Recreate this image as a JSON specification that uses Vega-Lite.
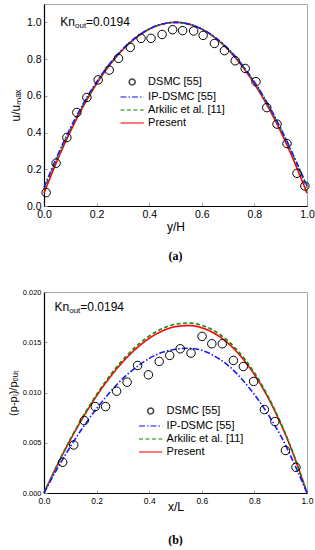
{
  "$schema": "https://vega.github.io/schema/vega-lite/v6.json",
  "padding": {"left": 6, "top": 3, "right": 0, "bottom": 0},
  "background": "white",
  "spacing": 25,
  "datasets": {
    "linesA": [
      {"x":0,"y":0.07,"s":"Present"},{"x":0.05,"y":0.2467,"s":"Present"},{"x":0.1,"y":0.4048,"s":"Present"},{"x":0.15,"y":0.5443,"s":"Present"},{"x":0.2,"y":0.6652,"s":"Present"},{"x":0.25,"y":0.7675,"s":"Present"},{"x":0.3,"y":0.8512,"s":"Present"},{"x":0.35,"y":0.9163,"s":"Present"},{"x":0.4,"y":0.9628,"s":"Present"},{"x":0.45,"y":0.9907,"s":"Present"},{"x":0.5,"y":1.0,"s":"Present"},{"x":0.55,"y":0.9907,"s":"Present"},{"x":0.6,"y":0.9628,"s":"Present"},{"x":0.65,"y":0.9163,"s":"Present"},{"x":0.7,"y":0.8512,"s":"Present"},{"x":0.75,"y":0.7675,"s":"Present"},{"x":0.8,"y":0.6652,"s":"Present"},{"x":0.85,"y":0.5443,"s":"Present"},{"x":0.9,"y":0.4048,"s":"Present"},{"x":0.95,"y":0.2467,"s":"Present"},{"x":1,"y":0.07,"s":"Present"},
      {"x":0,"y":0.09,"s":"Arkilic et al. [11]"},{"x":0.05,"y":0.2629,"s":"Arkilic et al. [11]"},{"x":0.1,"y":0.4176,"s":"Arkilic et al. [11]"},{"x":0.15,"y":0.5541,"s":"Arkilic et al. [11]"},{"x":0.2,"y":0.6724,"s":"Arkilic et al. [11]"},{"x":0.25,"y":0.7725,"s":"Arkilic et al. [11]"},{"x":0.3,"y":0.8544,"s":"Arkilic et al. [11]"},{"x":0.35,"y":0.9181,"s":"Arkilic et al. [11]"},{"x":0.4,"y":0.9636,"s":"Arkilic et al. [11]"},{"x":0.45,"y":0.9909,"s":"Arkilic et al. [11]"},{"x":0.5,"y":1.0,"s":"Arkilic et al. [11]"},{"x":0.55,"y":0.9909,"s":"Arkilic et al. [11]"},{"x":0.6,"y":0.9636,"s":"Arkilic et al. [11]"},{"x":0.65,"y":0.9181,"s":"Arkilic et al. [11]"},{"x":0.7,"y":0.8544,"s":"Arkilic et al. [11]"},{"x":0.75,"y":0.7725,"s":"Arkilic et al. [11]"},{"x":0.8,"y":0.6724,"s":"Arkilic et al. [11]"},{"x":0.85,"y":0.5541,"s":"Arkilic et al. [11]"},{"x":0.9,"y":0.4176,"s":"Arkilic et al. [11]"},{"x":0.95,"y":0.2629,"s":"Arkilic et al. [11]"},{"x":1,"y":0.1,"s":"Arkilic et al. [11]"},
      {"x":0,"y":0.1,"s":"IP-DSMC [55]"},{"x":0.05,"y":0.271,"s":"IP-DSMC [55]"},{"x":0.1,"y":0.424,"s":"IP-DSMC [55]"},{"x":0.15,"y":0.559,"s":"IP-DSMC [55]"},{"x":0.2,"y":0.676,"s":"IP-DSMC [55]"},{"x":0.25,"y":0.775,"s":"IP-DSMC [55]"},{"x":0.3,"y":0.856,"s":"IP-DSMC [55]"},{"x":0.35,"y":0.919,"s":"IP-DSMC [55]"},{"x":0.4,"y":0.964,"s":"IP-DSMC [55]"},{"x":0.45,"y":0.991,"s":"IP-DSMC [55]"},{"x":0.5,"y":1.0,"s":"IP-DSMC [55]"},{"x":0.55,"y":0.991,"s":"IP-DSMC [55]"},{"x":0.6,"y":0.964,"s":"IP-DSMC [55]"},{"x":0.65,"y":0.919,"s":"IP-DSMC [55]"},{"x":0.7,"y":0.856,"s":"IP-DSMC [55]"},{"x":0.75,"y":0.775,"s":"IP-DSMC [55]"},{"x":0.8,"y":0.676,"s":"IP-DSMC [55]"},{"x":0.85,"y":0.559,"s":"IP-DSMC [55]"},{"x":0.9,"y":0.424,"s":"IP-DSMC [55]"},{"x":0.95,"y":0.271,"s":"IP-DSMC [55]"},{"x":1,"y":0.11,"s":"IP-DSMC [55]"}
    ],
    "dsmcA": [
      {"x":0.008,"y":0.073},{"x":0.046,"y":0.233},{"x":0.087,"y":0.373},{"x":0.125,"y":0.509},{"x":0.163,"y":0.591},{"x":0.206,"y":0.687},{"x":0.248,"y":0.74},{"x":0.283,"y":0.804},{"x":0.328,"y":0.864},{"x":0.369,"y":0.913},{"x":0.407,"y":0.913},{"x":0.449,"y":0.934},{"x":0.489,"y":0.96},{"x":0.527,"y":0.955},{"x":0.569,"y":0.953},{"x":0.605,"y":0.929},{"x":0.648,"y":0.885},{"x":0.686,"y":0.846},{"x":0.727,"y":0.791},{"x":0.765,"y":0.749},{"x":0.806,"y":0.677},{"x":0.847,"y":0.536},{"x":0.886,"y":0.446},{"x":0.924,"y":0.34},{"x":0.962,"y":0.178},{"x":0.992,"y":0.109}
    ],
    "linesB": [
      {"x":0,"y":0,"s":"Present"},{"x":0.05,"y":0.00275,"s":"Present"},{"x":0.1,"y":0.00528,"s":"Present"},{"x":0.15,"y":0.00759,"s":"Present"},{"x":0.2,"y":0.00966,"s":"Present"},{"x":0.25,"y":0.01149,"s":"Present"},{"x":0.3,"y":0.01306,"s":"Present"},{"x":0.35,"y":0.01436,"s":"Present"},{"x":0.4,"y":0.01539,"s":"Present"},{"x":0.45,"y":0.01612,"s":"Present"},{"x":0.5,"y":0.01655,"s":"Present"},{"x":0.55,"y":0.01666,"s":"Present"},{"x":0.6,"y":0.01644,"s":"Present"},{"x":0.65,"y":0.01585,"s":"Present"},{"x":0.7,"y":0.0149,"s":"Present"},{"x":0.75,"y":0.01355,"s":"Present"},{"x":0.8,"y":0.01179,"s":"Present"},{"x":0.85,"y":0.00958,"s":"Present"},{"x":0.9,"y":0.0069,"s":"Present"},{"x":0.95,"y":0.00372,"s":"Present"},{"x":1,"y":0,"s":"Present"},
      {"x":0,"y":0,"s":"Arkilic et al. [11]"},{"x":0.05,"y":0.00279,"s":"Arkilic et al. [11]"},{"x":0.1,"y":0.00536,"s":"Arkilic et al. [11]"},{"x":0.15,"y":0.0077,"s":"Arkilic et al. [11]"},{"x":0.2,"y":0.0098,"s":"Arkilic et al. [11]"},{"x":0.25,"y":0.01166,"s":"Arkilic et al. [11]"},{"x":0.3,"y":0.01326,"s":"Arkilic et al. [11]"},{"x":0.35,"y":0.01458,"s":"Arkilic et al. [11]"},{"x":0.4,"y":0.01562,"s":"Arkilic et al. [11]"},{"x":0.45,"y":0.01636,"s":"Arkilic et al. [11]"},{"x":0.5,"y":0.0168,"s":"Arkilic et al. [11]"},{"x":0.55,"y":0.01691,"s":"Arkilic et al. [11]"},{"x":0.6,"y":0.01669,"s":"Arkilic et al. [11]"},{"x":0.65,"y":0.01609,"s":"Arkilic et al. [11]"},{"x":0.7,"y":0.01512,"s":"Arkilic et al. [11]"},{"x":0.75,"y":0.01375,"s":"Arkilic et al. [11]"},{"x":0.8,"y":0.01197,"s":"Arkilic et al. [11]"},{"x":0.85,"y":0.00972,"s":"Arkilic et al. [11]"},{"x":0.9,"y":0.007,"s":"Arkilic et al. [11]"},{"x":0.95,"y":0.00378,"s":"Arkilic et al. [11]"},{"x":1,"y":0,"s":"Arkilic et al. [11]"},
      {"x":0,"y":0,"s":"IP-DSMC [55]"},{"x":0.05,"y":0.0024,"s":"IP-DSMC [55]"},{"x":0.1,"y":0.0046,"s":"IP-DSMC [55]"},{"x":0.15,"y":0.0066,"s":"IP-DSMC [55]"},{"x":0.2,"y":0.0084,"s":"IP-DSMC [55]"},{"x":0.25,"y":0.01,"s":"IP-DSMC [55]"},{"x":0.3,"y":0.0114,"s":"IP-DSMC [55]"},{"x":0.35,"y":0.0125,"s":"IP-DSMC [55]"},{"x":0.4,"y":0.0134,"s":"IP-DSMC [55]"},{"x":0.45,"y":0.014,"s":"IP-DSMC [55]"},{"x":0.5,"y":0.0143,"s":"IP-DSMC [55]"},{"x":0.55,"y":0.0144,"s":"IP-DSMC [55]"},{"x":0.6,"y":0.0142,"s":"IP-DSMC [55]"},{"x":0.65,"y":0.0136,"s":"IP-DSMC [55]"},{"x":0.7,"y":0.0127,"s":"IP-DSMC [55]"},{"x":0.75,"y":0.0114,"s":"IP-DSMC [55]"},{"x":0.8,"y":0.0098,"s":"IP-DSMC [55]"},{"x":0.85,"y":0.0079,"s":"IP-DSMC [55]"},{"x":0.9,"y":0.0057,"s":"IP-DSMC [55]"},{"x":0.95,"y":0.003,"s":"IP-DSMC [55]"},{"x":1,"y":0,"s":"IP-DSMC [55]"}
    ],
    "dsmcB": [
      {"x":0.071,"y":0.00306},{"x":0.113,"y":0.00478},{"x":0.153,"y":0.00721},{"x":0.195,"y":0.0086},{"x":0.234,"y":0.0086},{"x":0.276,"y":0.01013},{"x":0.316,"y":0.01103},{"x":0.356,"y":0.01269},{"x":0.397,"y":0.01176},{"x":0.438,"y":0.01309},{"x":0.478,"y":0.01369},{"x":0.518,"y":0.01435},{"x":0.559,"y":0.01392},{"x":0.601,"y":0.01558},{"x":0.638,"y":0.01485},{"x":0.678,"y":0.01485},{"x":0.72,"y":0.01319},{"x":0.758,"y":0.01259},{"x":0.797,"y":0.0111},{"x":0.838,"y":0.0083},{"x":0.878,"y":0.00711},{"x":0.918,"y":0.00423},{"x":0.958,"y":0.00256}
    ],
    "legendRows": [{"s":"DSMC [55]"},{"s":"IP-DSMC [55]"},{"s":"Arkilic et al. [11]"},{"s":"Present"}],
    "kn": [{"a":"Kn","b":"out","c":"=0.0194"}]
  },
  "resolve": {
    "scale": {"color": "independent", "shape": "independent", "strokeDash": "independent"},
    "legend": {"color": "independent", "shape": "independent", "strokeDash": "independent"}
  },
  "vconcat": [
    {
      "width": 263,
      "height": 202,
      "title": {"text": "(a)", "orient": "bottom", "anchor": "middle", "font": "Liberation Serif", "fontWeight": "bold", "fontSize": 12, "offset": 18, "color": "#000"},
      "layer": [
        {
          "data": {"name": "legendRows"},
          "mark": {"type": "point", "filled": false, "size": 0, "strokeWidth": 1.6},
          "encoding": {
            "x": {"datum": 0.5}, "y": {"datum": 0.5},
            "color": {"field": "s", "type": "nominal", "legend": {"title": null, "orient": "none", "legendX": 75.5, "legendY": 72}},
            "strokeDash": {"field": "s", "type": "nominal", "legend": {"title": null, "orient": "none", "legendX": 75.5, "legendY": 72}},
            "shape": {"field": "s", "type": "nominal", "legend": {"title": null, "orient": "none", "legendX": 75.5, "legendY": 72}, "scale": {"domain": ["DSMC [55]", "IP-DSMC [55]", "Arkilic et al. [11]", "Present"], "range": ["M1.93,0L1.85,0.3L1.63,0.52L1.33,0.6L1.03,0.52L0.81,0.3L0.73,0L0.81,-0.3L1.03,-0.52L1.33,-0.6L1.63,-0.52L1.85,-0.3Z", "M-1,0H3.66", "M-1,0H3.66", "M-1,0H3.66"]}}
          }
        },
        {
          "data": {"name": "linesA"},
          "mark": {"type": "line", "strokeWidth": 1.6, "interpolate": "monotone"},
          "encoding": {
            "x": {"field": "x", "type": "quantitative", "scale": {"domain": [0, 1], "nice": false, "zero": false},
              "axis": {"title": "y/H", "values": [0,0.1,0.2,0.3,0.4,0.5,0.6,0.7,0.8,0.9,1], "labelExpr": "round(datum.value*10)%2==0 ? format(datum.value, '.1f') : ''", "labelFontSize": 10.5, "titleFontSize": 12, "labelPadding": 6, "titlePadding": 2}},
            "y": {"field": "y", "type": "quantitative", "scale": {"domain": [0, 1.1], "nice": false, "zero": false},
              "axis": {"title": "u/uₘₐₓ", "values": [0,0.1,0.2,0.3,0.4,0.5,0.6,0.7,0.8,0.9,1], "labelExpr": "round(datum.value*10)%2==0 ? format(datum.value, '.1f') : ''", "labelFontSize": 10.5, "titleFontSize": 12, "labelPadding": 6, "titlePadding": 4}},
            "color": {"field": "s", "type": "nominal", "legend": {"title": null, "orient": "none", "legendX": 75.5, "legendY": 72}, "scale": {"domain": ["DSMC [55]", "IP-DSMC [55]", "Arkilic et al. [11]", "Present"], "range": ["#000000", "#1a1aff", "#138a13", "#ff0000"]}},
            "strokeDash": {"field": "s", "type": "nominal", "legend": {"title": null, "orient": "none", "legendX": 75.5, "legendY": 72}, "scale": {"domain": ["DSMC [55]", "IP-DSMC [55]", "Arkilic et al. [11]", "Present"], "range": [[1, 0], [6, 2, 1.5, 2], [4, 2.5], [1, 0]]}}
          }
        },
        {
          "data": {"name": "dsmcA"},
          "mark": {"type": "point", "shape": "circle", "filled": false, "size": 72, "stroke": "#000", "strokeWidth": 1, "opacity": 1},
          "encoding": {"x": {"field": "x", "type": "quantitative"}, "y": {"field": "y", "type": "quantitative"}}
        },
        {
          "data": {"name": "kn"},
          "mark": {"type": "text", "align": "left", "baseline": "middle", "fontSize": 12, "font": "Liberation Sans", "color": "#000"},
          "encoding": {"x": {"datum": 0.062}, "y": {"datum": 1.0}, "text": {"field": "a"}}
        },
        {
          "data": {"name": "kn"},
          "mark": {"type": "text", "align": "left", "baseline": "middle", "fontSize": 8, "font": "Liberation Sans", "color": "#000", "dx": 14.7, "dy": 4},
          "encoding": {"x": {"datum": 0.062}, "y": {"datum": 1.0}, "text": {"field": "b"}}
        },
        {
          "data": {"name": "kn"},
          "mark": {"type": "text", "align": "left", "baseline": "middle", "fontSize": 12, "font": "Liberation Sans", "color": "#000", "dx": 25.8},
          "encoding": {"x": {"datum": 0.062}, "y": {"datum": 1.0}, "text": {"field": "c"}}
        }
      ]
    },
    {
      "width": 263,
      "height": 201,
      "title": {"text": "(b)", "orient": "bottom", "anchor": "middle", "font": "Liberation Serif", "fontWeight": "bold", "fontSize": 12, "offset": 22, "color": "#000"},
      "layer": [
        {
          "data": {"name": "legendRows"},
          "mark": {"type": "point", "filled": false, "size": 0, "strokeWidth": 1.6},
          "encoding": {
            "x": {"datum": 0.5}, "y": {"datum": 0.01},
            "color": {"field": "s", "type": "nominal", "legend": {"title": null, "orient": "none", "legendX": 94, "legendY": 113}},
            "strokeDash": {"field": "s", "type": "nominal", "legend": {"title": null, "orient": "none", "legendX": 94, "legendY": 113}},
            "shape": {"field": "s", "type": "nominal", "legend": {"title": null, "orient": "none", "legendX": 94, "legendY": 113}, "scale": {"domain": ["DSMC [55]", "IP-DSMC [55]", "Arkilic et al. [11]", "Present"], "range": ["M1.93,0L1.85,0.3L1.63,0.52L1.33,0.6L1.03,0.52L0.81,0.3L0.73,0L0.81,-0.3L1.03,-0.52L1.33,-0.6L1.63,-0.52L1.85,-0.3Z", "M-1,0H3.66", "M-1,0H3.66", "M-1,0H3.66"]}}
          }
        },
        {
          "data": {"name": "linesB"},
          "mark": {"type": "line", "strokeWidth": 1.6, "interpolate": "monotone"},
          "encoding": {
            "x": {"field": "x", "type": "quantitative", "scale": {"domain": [0, 1], "nice": false, "zero": false},
              "axis": {"title": "x/L", "values": [0,0.1,0.2,0.3,0.4,0.5,0.6,0.7,0.8,0.9,1], "labelExpr": "round(datum.value*10)%2==0 ? format(datum.value, '.1f') : ''", "labelFontSize": 8.5, "titleFontSize": 12, "labelPadding": 6, "titlePadding": -3}},
            "y": {"field": "y", "type": "quantitative", "scale": {"domain": [0, 0.02], "nice": false, "zero": false},
              "axis": {"title": "(p-pₗ)/pₒᵤₜ", "values": [0,0.0025,0.005,0.0075,0.01,0.0125,0.015,0.0175,0.02], "labelExpr": "round(datum.value*400)%2==0 ? format(datum.value, '.3f') : ''", "labelFontSize": 7.5, "titleFontSize": 11, "labelPadding": 6, "titlePadding": 4}},
            "color": {"field": "s", "type": "nominal", "legend": {"title": null, "orient": "none", "legendX": 94, "legendY": 113}, "scale": {"domain": ["DSMC [55]", "IP-DSMC [55]", "Arkilic et al. [11]", "Present"], "range": ["#000000", "#1a1aff", "#138a13", "#ff0000"]}},
            "strokeDash": {"field": "s", "type": "nominal", "legend": {"title": null, "orient": "none", "legendX": 94, "legendY": 113}, "scale": {"domain": ["DSMC [55]", "IP-DSMC [55]", "Arkilic et al. [11]", "Present"], "range": [[1, 0], [6, 2, 1.5, 2], [4, 2.5], [1, 0]]}}
          }
        },
        {
          "data": {"name": "dsmcB"},
          "mark": {"type": "point", "shape": "circle", "filled": false, "size": 72, "stroke": "#000", "strokeWidth": 1, "opacity": 1},
          "encoding": {"x": {"field": "x", "type": "quantitative"}, "y": {"field": "y", "type": "quantitative"}}
        },
        {
          "data": {"name": "kn"},
          "mark": {"type": "text", "align": "left", "baseline": "middle", "fontSize": 12, "font": "Liberation Sans", "color": "#000"},
          "encoding": {"x": {"datum": 0.04}, "y": {"datum": 0.0185}, "text": {"field": "a"}}
        },
        {
          "data": {"name": "kn"},
          "mark": {"type": "text", "align": "left", "baseline": "middle", "fontSize": 8, "font": "Liberation Sans", "color": "#000", "dx": 14.7, "dy": 4},
          "encoding": {"x": {"datum": 0.04}, "y": {"datum": 0.0185}, "text": {"field": "b"}}
        },
        {
          "data": {"name": "kn"},
          "mark": {"type": "text", "align": "left", "baseline": "middle", "fontSize": 12, "font": "Liberation Sans", "color": "#000", "dx": 25.8},
          "encoding": {"x": {"datum": 0.04}, "y": {"datum": 0.0185}, "text": {"field": "c"}}
        }
      ]
    }
  ],
  "config": {
    "font": "Liberation Sans",
    "view": {"stroke": "#a8a8a8", "strokeWidth": 1},
    "axis": {"domainColor": "#000000", "domainWidth": 1.2, "tickColor": "#999999", "tickSize": -3, "tickWidth": 1, "grid": false, "labelColor": "#000000", "titleColor": "#000000", "labelFont": "Liberation Sans", "titleFont": "Liberation Sans", "titleFontWeight": "normal", "labelOverlap": false, "labelFlush": false},
    "legend": {"symbolSize": 100, "symbolStrokeWidth": 1.6, "labelFont": "Liberation Sans", "labelFontSize": 11, "labelColor": "#000000", "rowPadding": 2, "padding": 0, "labelOffset": 16.6, "symbolOffset": 0, "symbolFillColor": "transparent"}
  }
}
